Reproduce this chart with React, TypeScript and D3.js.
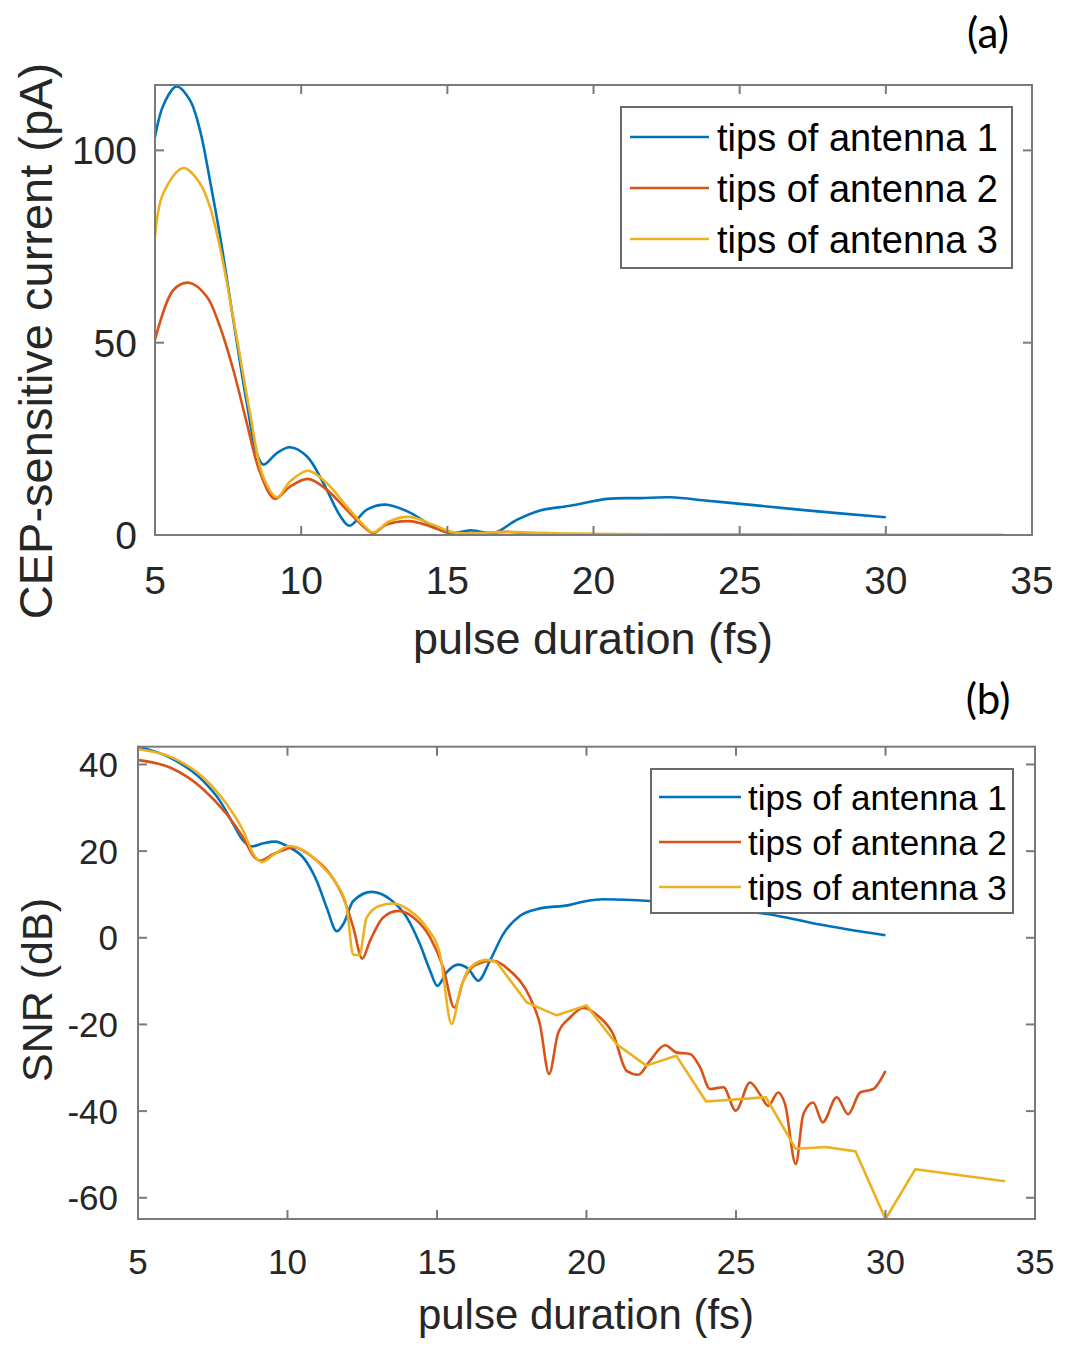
import React, {useEffect, useRef} from "react";
import * as d3 from "d3";

const SERIES_NAMES = ["tips of antenna 1", "tips of antenna 2", "tips of antenna 3"];
const COLORS = ["#0072BD", "#D95319", "#EDB120"];
const X_TICKS = [5, 10, 15, 20, 25, 30, 35];
const CURRENT_TICKS = [0, 50, 100];
const SNR_TICKS = [-60, -40, -20, 0, 20, 40];

// panel (a): CEP-sensitive current (pA) vs pulse duration (fs)
const durA1 = [5, 5.3, 5.74, 6.2, 6.54, 6.88, 7.23, 7.68, 8.14, 8.48, 8.71, 9.17, 9.62, 10.2, 10.76, 11.34, 11.65, 12.25, 12.88, 13.62, 14.42, 15.1, 15.8, 16.59, 17.39, 18.18, 19.2, 20.47, 21.6, 22.64, 23.9, 25.03, 27.3, 30];
const curA1 = [103.5, 112, 116.6, 113, 105.2, 92.2, 77.5, 55.9, 34.3, 21.3, 18.3, 21.3, 22.8, 20.4, 13.5, 4.9, 2.4, 6.6, 7.9, 6.2, 2.7, 0.5, 1.2, 0.5, 4, 6.4, 7.6, 9.4, 9.6, 9.8, 8.9, 8.1, 6.4, 4.6];
const durA2 = [5, 5.63, 6.17, 6.77, 7.22, 7.68, 8.14, 8.6, 9.1, 9.62, 10.24, 10.87, 11.55, 12.12, 12.46, 12.92, 13.7, 14.4, 15.08, 16, 17, 18, 20, 22, 25, 30];
const curA2 = [50.7, 63.7, 65.6, 62, 54.2, 42.9, 29.1, 16.1, 9.4, 12.6, 14.6, 11.8, 6.6, 2.3, 0.5, 2.7, 3.6, 2.3, 0.5, 0.4, 0.8, 0.3, 0.2, 0.15, 0.1, 0.05];
const durA3 = [5, 5.28, 5.97, 6.54, 6.88, 7.22, 7.79, 8.25, 8.7, 9.17, 9.62, 10.24, 10.87, 11.55, 12.12, 12.46, 13.03, 13.7, 14.5, 15.2, 16, 17, 18, 19, 20, 22, 25, 30, 34];
const curA3 = [77.5, 88.8, 95.4, 91.4, 85.3, 74.9, 51.6, 31.7, 15.2, 9.8, 13.9, 16.7, 13.5, 7.5, 2.7, 0.7, 3.6, 4.7, 2.7, 0.7, 0.5, 0.8, 0.6, 0.4, 0.3, 0.2, 0.1, 0.05, 0.05];

// panel (b): SNR (dB) vs pulse duration (fs)
const durB1 = [5, 6.07, 7.18, 7.74, 8.19, 8.52, 8.8, 9.19, 9.58, 10.08, 10.53, 10.98, 11.31, 11.65, 11.87, 12.2, 12.82, 13.43, 13.99, 14.43, 14.77, 15.01, 15.32, 15.71, 16.05, 16.38, 16.77, 17.22, 17.78, 18.33, 19.45, 20, 20.56, 22.12, 23, 24, 25, 26.03, 27.7, 30];
const snrB1 = [44.1, 41.6, 36.2, 31.6, 26.2, 22.4, 21.1, 21.8, 22.2, 20.8, 18.5, 13.1, 7, 1.5, 3.2, 8.5, 10.6, 8.9, 4.7, -1.5, -7.6, -11.1, -8, -6.2, -7.2, -9.9, -5.3, 0.9, 5.1, 6.6, 7.6, 8.5, 8.9, 8.5, 8, 7, 6.2, 5.5, 3.2, 0.6];
const durB2 = [5, 6.07, 7.18, 7.97, 8.52, 8.91, 9.08, 9.52, 9.97, 10.2, 10.86, 11.42, 11.87, 12.2, 12.5, 12.76, 13.2, 13.7, 14.21, 14.77, 15.21, 15.58, 15.88, 16.33, 16.88, 17.44, 18.11, 18.44, 18.75, 19.05, 19.45, 19.89, 20.45, 20.89, 21.34, 21.73, 22.12, 22.63, 23.02, 23.46, 23.8, 24.13, 24.58, 24.99, 25.47, 25.8, 26.08, 26.41, 26.64, 27, 27.25, 27.58, 27.9, 28.37, 28.75, 29.15, 29.59, 30];
const snrB2 = [41, 39.3, 34.3, 28.5, 23.1, 18.5, 17.8, 19.3, 20.5, 20.9, 18.5, 14.7, 9.3, 2.4, -4.8, -0.7, 4.7, 6.2, 4.7, 0.1, -6.9, -16.1, -9.9, -6.1, -5.3, -7.6, -13.8, -19.9, -31.4, -22, -18.4, -16.2, -18.4, -22.2, -30.7, -31.6, -28.4, -24.8, -26.5, -26.8, -29.9, -34.9, -34.5, -39.9, -33.4, -36.1, -38.8, -35.7, -38.4, -52.2, -40.7, -38, -42.6, -36.8, -40.7, -35.7, -34.9, -30.7];
const durB3 = [5, 6.07, 7.18, 7.97, 8.52, 8.86, 9.14, 9.52, 10.08, 10.64, 11.2, 11.65, 11.98, 12.2, 12.4, 12.65, 13.09, 13.54, 14.1, 14.65, 15.1, 15.49, 15.77, 16.1, 16.66, 17, 18, 19, 20, 21, 22, 23, 24, 25, 26, 27, 28, 29, 30, 31, 34];
const snrB3 = [43.5, 41.8, 37, 30.8, 24.7, 19.3, 17.5, 19.1, 21.2, 19.7, 16.2, 12.4, 7, -3.9, -4, 4.7, 7.4, 7.9, 6.2, 2.4, -3.8, -19.9, -12.2, -6.9, -5.1, -5.7, -14.9, -17.9, -15.6, -24.5, -29.5, -27.2, -37.8, -37.3, -36.8, -48.7, -48.3, -49.3, -64.9, -53.4, -56.2];

const FONT = "'Liberation Sans', Arial, sans-serif";
const AXIS_COLOR = "#7a7a7a";
const TEXT_COLOR = "#262626";

function drawPanel(svg: any, cfg: any) {
  const x = d3.scaleLinear().domain([5, 35]).range([cfg.left, cfg.right]);
  const y = d3.scaleLinear().domain(cfg.yDomain).range([cfg.bottom, cfg.top]);
  const g = svg.append("g");

  g.append("clipPath").attr("id", cfg.id)
    .append("rect")
    .attr("x", cfg.left).attr("y", cfg.top - 2)
    .attr("width", cfg.right - cfg.left).attr("height", cfg.bottom - cfg.top + 4);

  // data lines: smooth up to linearFrom, straight segments after it
  cfg.series.forEach((s: any, i: number) => {
    const pts: [number, number][] = s.xs.map((v: number, k: number) => [v, s.ys[k]]);
    const smooth = pts.filter((p) => p[0] <= s.linearFrom);
    const rough = pts.filter((p) => p[0] >= s.linearFrom);
    const gen = (curve: any) => d3.line<[number, number]>()
      .x((p) => x(p[0])).y((p) => y(p[1])).curve(curve);
    [[smooth, cfg.curve], [rough, d3.curveLinear]].forEach(([part, curve]: any) => {
      if (part.length < 2) return;
      g.append("path")
        .attr("d", gen(curve)(part))
        .attr("clip-path", `url(#${cfg.id})`)
        .style("fill", "none")
        .style("stroke", COLORS[i])
        .style("stroke-width", 2.6)
        .style("stroke-linejoin", "round");
    });
  });

  // box and inward ticks on all sides
  g.append("rect")
    .attr("x", cfg.left).attr("y", cfg.top)
    .attr("width", cfg.right - cfg.left).attr("height", cfg.bottom - cfg.top)
    .style("fill", "none").style("stroke", AXIS_COLOR).style("stroke-width", 2);
  const TICK = 9;
  X_TICKS.forEach((t) => {
    g.append("line").attr("x1", x(t)).attr("x2", x(t)).attr("y1", cfg.bottom).attr("y2", cfg.bottom - TICK)
      .style("stroke", AXIS_COLOR).style("stroke-width", 2);
    g.append("line").attr("x1", x(t)).attr("x2", x(t)).attr("y1", cfg.top).attr("y2", cfg.top + TICK)
      .style("stroke", AXIS_COLOR).style("stroke-width", 2);
    g.append("text").attr("x", x(t)).attr("y", cfg.xTickY)
      .attr("text-anchor", "middle")
      .style("font-family", FONT).style("font-size", cfg.tickSize + "px").style("fill", TEXT_COLOR)
      .text(t);
  });
  cfg.yTicks.forEach((t: number) => {
    g.append("line").attr("x1", cfg.left).attr("x2", cfg.left + TICK).attr("y1", y(t)).attr("y2", y(t))
      .style("stroke", AXIS_COLOR).style("stroke-width", 2);
    g.append("line").attr("x1", cfg.right).attr("x2", cfg.right - TICK).attr("y1", y(t)).attr("y2", y(t))
      .style("stroke", AXIS_COLOR).style("stroke-width", 2);
    g.append("text").attr("x", cfg.yTickX).attr("y", y(t) + cfg.tickSize * 0.36)
      .attr("text-anchor", "end")
      .style("font-family", FONT).style("font-size", cfg.tickSize + "px").style("fill", TEXT_COLOR)
      .text(t);
  });

  // axis titles
  g.append("text").attr("x", cfg.xLabel[0]).attr("y", cfg.xLabel[1])
    .attr("text-anchor", "middle")
    .style("font-family", FONT).style("font-size", cfg.labelSize + "px").style("fill", TEXT_COLOR)
    .text("pulse duration (fs)");
  g.append("text")
    .attr("transform", `translate(${cfg.yLabel[0]},${cfg.yLabel[1]}) rotate(-90)`)
    .attr("text-anchor", "middle")
    .style("font-family", FONT).style("font-size", cfg.yLabelSize + "px").style("fill", TEXT_COLOR)
    .text(cfg.yTitle);

  // panel letter
  g.append("text").attr("x", cfg.letter[0]).attr("y", cfg.letter[1])
    .attr("text-anchor", "middle")
    .style("font-family", "Lato, 'Open Sans', sans-serif").style("font-size", "42px").style("fill", "#000")
    .text(cfg.letterText);

  // legend
  const L = cfg.legend;
  g.append("rect").attr("x", L.x).attr("y", L.y).attr("width", L.w).attr("height", L.h)
    .style("fill", "#fff").style("stroke", "#6a6a6a").style("stroke-width", 2);
  SERIES_NAMES.forEach((name, i) => {
    const ry = L.rows[i];
    g.append("line").attr("x1", L.l1).attr("x2", L.l2).attr("y1", ry).attr("y2", ry)
      .style("stroke", COLORS[i]).style("stroke-width", 2.6);
    g.append("text").attr("x", L.tx).attr("y", ry + L.size * 0.36)
      .style("font-family", FONT).style("font-size", L.size + "px").style("fill", "#000")
      .text(name);
  });
}

export default function App() {
  const ref = useRef<SVGSVGElement>(null);

  useEffect(() => {
    document.body.style.margin = "0";
    const svg = d3.select(ref.current);
    svg.selectAll("*").remove();

    const maxA = d3.max([...curA1, ...curA2, ...curA3]) as number;
    drawPanel(svg, {
      id: "clipA",
      left: 155, right: 1032, top: 85, bottom: 535,
      yDomain: [0, maxA + 0.4],
      yTicks: CURRENT_TICKS,
      curve: d3.curveCatmullRom.alpha(0.5),
      series: [
        {xs: durA1, ys: curA1, linearFrom: 99},
        {xs: durA2, ys: curA2, linearFrom: 99},
        {xs: durA3, ys: curA3, linearFrom: 99},
      ],
      tickSize: 39, xTickY: 594, yTickX: 137,
      labelSize: 45, xLabel: [593, 654],
      yTitle: "CEP-sensitive current (pA)", yLabelSize: 47, yLabel: [52, 341],
      letter: [988, 48], letterText: "(a)",
      legend: {x: 621, y: 107, w: 391, h: 161, rows: [137, 188, 239], l1: 630, l2: 709, tx: 717, size: 38},
    });

    const extB = d3.extent([...snrB1, ...snrB2, ...snrB3]) as [number, number];
    drawPanel(svg, {
      id: "clipB",
      left: 138, right: 1035, top: 746.7, bottom: 1219,
      yDomain: extB,
      yTicks: SNR_TICKS,
      curve: d3.curveMonotoneX,
      series: [
        {xs: durB1, ys: snrB1, linearFrom: 99},
        {xs: durB2, ys: snrB2, linearFrom: 99},
        {xs: durB3, ys: snrB3, linearFrom: 17},
      ],
      tickSize: 35, xTickY: 1274, yTickX: 118,
      labelSize: 42, xLabel: [586, 1329],
      yTitle: "SNR (dB)", yLabelSize: 43, yLabel: [52, 990],
      letter: [988, 714], letterText: "(b)",
      legend: {x: 651, y: 769, w: 362, h: 144, rows: [797, 842, 887], l1: 659, l2: 741, tx: 748, size: 35},
    });
  }, []);

  return <svg ref={ref} width={1076} height={1362} style={{display: "block", background: "#fff"}} />;
}
